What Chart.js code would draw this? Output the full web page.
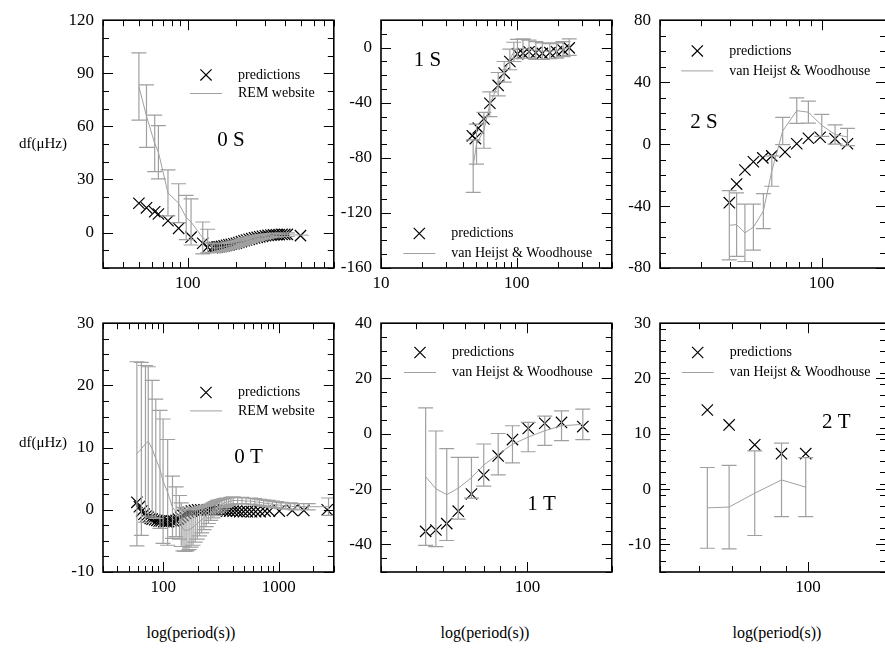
<!DOCTYPE html>
<html>
<head>
<meta charset="utf-8">
<script src="https://cdn.jsdelivr.net/npm/chart.js@4.4.0/dist/chart.umd.min.js"></script>
<style>
  body { margin: 0; width: 885px; height: 648px; overflow: hidden; position: relative; background: #fff; font-family: 'Liberation Serif', serif; }
  .box { position: absolute; }
  .box canvas { display: block; }
  .txt { position: absolute; color: #000; white-space: nowrap; line-height: 1; }
  .ylab { font-size: 15px; transform: translateY(-50%); }
  .xlab { font-size: 16px; width: 200px; text-align: center; }
</style>
</head>
<body>
<div class="box" style="left:43px;top:1px"><canvas id="c0s" width="300" height="297"></canvas></div>
<div class="box" style="left:321px;top:1px"><canvas id="c1s" width="300" height="297"></canvas></div>
<div class="box" style="left:600px;top:1px"><canvas id="c2s" width="300" height="297"></canvas></div>
<div class="box" style="left:43px;top:304px"><canvas id="c0t" width="300" height="298"></canvas></div>
<div class="box" style="left:321px;top:304px"><canvas id="c1t" width="300" height="298"></canvas></div>
<div class="box" style="left:600px;top:304px"><canvas id="c2t" width="300" height="298"></canvas></div>

<div class="txt ylab" style="left:19px;top:143px">df(μHz)</div>
<div class="txt ylab" style="left:19px;top:442px">df(μHz)</div>
<div class="txt xlab" style="left:91px;top:625px">log(period(s))</div>
<div class="txt xlab" style="left:385px;top:625px">log(period(s))</div>
<div class="txt xlab" style="left:677px;top:625px">log(period(s))</div>

<script>
// ---- 0 S ----
var predX_0S = [50, 55.7, 62.6, 66, 75.6, 88, 105, 124, 133,
  142, 147, 152, 157, 162, 168, 174, 180, 186, 193, 200, 207, 215, 223, 231,
  240, 249, 259, 269, 279, 290, 302, 314, 327, 340, 354, 368, 383, 398, 413, 498];
var predY_0S = [16.6, 14, 11.8, 10.5, 6.7, 2.4, -2.6, -6, -8.2,
  -8.5, -8.4, -8.2, -8.0, -7.8, -7.5, -7.2, -6.9, -6.6, -6.3, -6.0, -5.6, -5.1, -4.6, -4.2,
  -3.8, -3.4, -3.0, -2.7, -2.4, -2.1, -1.8, -1.6, -1.4, -1.3, -1.2, -1.1, -1.0, -1.0, -1.0, -1.7];
var remX_0S = [50, 55.7, 62.6, 66, 75.6, 88, 98, 105, 124, 133,
  142, 147, 152, 157, 162, 168, 174, 180, 186, 193, 200, 207, 215, 223, 231,
  240, 249, 259, 269, 279, 290, 302, 314, 327, 340, 354, 368, 383, 398, 413, 560];
var remY_0S = [82.5, 65.8, 50.4, 45.4, 22.4, 16.6, 8.5, 6, -3, -4.8,
  -8.6, -8.8, -8.7, -8.5, -8.3, -8.1, -7.8, -7.4, -7.1, -6.7, -6.4, -6.0, -5.5, -5.0, -4.6,
  -4.2, -3.8, -3.4, -3.0, -2.7, -2.4, -2.1, -1.9, -1.7, -1.5, -1.4, -1.3, -1.2, -1.2, -1.2, -1.5];
var remErr_0S = [19, 17.7, 16, 15, 13, 11, 12.5, 13, 9, 6.7,
  2.6, 2.5, 2.4, 2.3, 2.2, 2.1, 2, 2, 1.9, 1.9, 1.8, 1.8, 1.7, 1.7, 1.6,
  1.6, 1.5, 1.5, 1.4, 1.4, 1.3, 1.3, 1.2, 1.2, 1.1, 1.1, 1.0, 1.0, 1.0, 1.0, 0];

// ---- 1 S ----
var predX_1S = [47, 49.5, 52, 57.2, 63.3, 72.9, 80.7, 88.8, 101, 111, 123, 138, 154, 175, 196, 219, 243];
var predY_1S = [-64, -66, -58.4, -51.7, -40.3, -27.4, -18.4, -10, -4.5, -4.1, -2.9, -3.6, -4.1, -3.6, -2.9, -1.7, -0.1];
var vhX_1S = [47.7, 50.5, 57.2, 63.3, 72.9, 80.7, 88.8, 95, 101, 111, 123, 138, 154, 175, 196, 219, 243];
var vhY_1S = [-86, -70, -60, -41, -26.5, -17.5, -8.5, -3, -1, -0.5, -1, -2, -2.5, -2.5, -2, -1, 0.5];
var vhErr_1S = [19, 14.5, 13, 9, 8.5, 7.5, 7.5, 7, 7, 7, 6.5, 6.5, 6, 5.5, 5.5, 5.5, 6];

// ---- 2 S ----
var predX_2S = [39.9, 42.9, 46.6, 50.7, 55.7, 60.9, 69.5, 78.1, 87.7, 98.6, 114.4, 129.4];
var predY_2S = [-37.8, -25.8, -16.7, -11.4, -8.9, -7.6, -5.1, 0.2, 3.8, 4.4, 3.4, 0.2];
var vhX_2S = [39.9, 42.9, 46.6, 50.7, 56, 60.9, 67.9, 78.1, 87.7, 100.2, 114.4, 129.4];
var vhY_2S = [-52.4, -52, -57.3, -53.6, -43.3, -17.4, 8.5, 21.6, 20.6, 12.1, 6.2, 4.6];
var vhErr_2S = [22.4, 20.5, 18.5, 14.8, 11.3, 9.8, 8.8, 8.2, 7.1, 7.1, 6.2, 5.6];

// ---- 0 T ----
var predX_0T = [59, 62, 65, 68, 71, 74, 77, 80, 84, 88, 92, 96, 101, 106, 111, 117, 123, 129, 135, 141,
  148, 156, 165, 175, 186, 198, 211, 225, 240, 256, 273, 291, 310, 330, 352, 376, 402, 430, 460, 495,
  535, 580, 630, 690, 760, 830, 1010, 1310, 1650, 2630];
var predY_0T = [1.2, 0.5, -0.2, -0.7, -1.0, -1.2, -1.4, -1.5, -1.6, -1.7, -1.8, -1.8, -1.9, -1.9, -1.9, -1.8, -1.8, -1.7, -1.5, -1.2,
  -0.9, -0.6, -0.4, -0.2, -0.1, 0, 0, 0, 0, 0, 0, -0.1, -0.1, -0.1, -0.2, -0.2, -0.2, -0.2, -0.3, -0.3,
  -0.3, -0.3, -0.3, -0.3, -0.2, -0.2, -0.2, -0.1, -0.1, 0];
var remX_0T = [59, 64.5, 70, 74, 80, 86, 93.5, 99.5, 109, 120, 129, 138,
  143, 148, 154, 160, 167, 174, 181, 189, 197, 206, 215, 225, 235, 246, 257, 269, 281, 294, 308, 322,
  337, 352, 368, 385, 403, 440, 480, 520, 570, 620, 680, 740, 810, 880, 960, 1050, 1150, 1260, 1380, 1510,
  1650, 1800, 2700];
var remY_0T = [9.0, 9.8, 10.6, 11.0, 9.8, 8.2, 6.5, 4.6, 2.8, 0.4, -0.3, -1.2,
  -2.4, -3.1, -3.3, -3.3, -3.2, -3.0, -2.8, -2.5, -2.2, -1.9, -1.6, -1.3, -1.0, -0.7, -0.4, -0.1, 0.2, 0.5, 0.7, 0.9,
  1.1, 1.2, 1.3, 1.4, 1.5, 1.5, 1.5, 1.4, 1.4, 1.3, 1.2, 1.1, 1.0, 0.9, 0.8, 0.7, 0.6, 0.6, 0.5, 0.5,
  0.5, 0.5, 0.5];
var remErr_0T = [14.8, 13.9, 12.6, 12, 11, 9.6, 9.5, 10, 8.5, 5, 4, 3.5,
  3.5, 3.5, 3.4, 3.3, 3.2, 3.0, 2.9, 2.7, 2.5, 2.3, 2.1, 1.9, 1.7, 1.5, 1.3, 1.2, 1.1, 1.0, 0.9, 0.8,
  0.7, 0.7, 0.6, 0.6, 0.6, 0.5, 0.5, 0.5, 0.5, 0.5, 0.5, 0.5, 0.5, 0.5, 0.5, 0.5, 0.5, 0.5, 0.5, 0.5,
  0.5, 0.5, 1.4];

// ---- 1 T ----
var predX_1T = [43.3, 47.1, 51.5, 56.6, 63.1, 69.8, 78.6, 88.4, 100.6, 115.3, 132.3, 157.6];
var predY_1T = [-35.3, -34.8, -32.5, -28, -21.8, -14.9, -8, -2.1, 1.9, 3.8, 4.1, 2.6];
var vhX_1T = [43.3, 47.1, 51.5, 56.6, 63.1, 69.8, 78.6, 88.4, 100.6, 115.3, 132.3, 157.6];
var vhY_1T = [-15.5, -19.9, -22, -19.7, -15.9, -11.3, -7.4, -3.8, -1.2, 1.1, 2.9, 3.4];
var vhErr_1T = [24.9, 20.9, 16.6, 11.2, 7.4, 7.6, 7.5, 6.7, 5.3, 5.3, 5.4, 5.5];

// ---- 2 T ----
var predX_2T = [62.4, 69.1, 77.9, 88.3, 98.9];
var predY_2T = [14.3, 11.6, 8.0, 6.4, 6.4];
var vhX_2T = [62.4, 69.1, 77.9, 88.3, 98.9];
var vhY_2T = [-3.4, -3.25, -0.75, 1.65, 0.35];
var vhErr_2T = [7.3, 7.55, 7.65, 6.65, 5.35];

var GRAY = '#a0a0a0';
var CAP = 7.5;

Chart.defaults.font.family = "'Liberation Serif', serif";
Chart.defaults.color = '#000';

function pts(xs, ys) {
  return xs.map(function (x, i) { return { x: x, y: ys[i] }; });
}
function logTicks(min, max) {
  var out = [];
  for (var e = Math.floor(Math.log10(min)); Math.pow(10, e) <= max; e++) {
    for (var k = 1; k < 10; k++) {
      var v = k * Math.pow(10, e);
      if (v >= min && v <= max) out.push(v);
    }
  }
  return out;
}
function linTicks(min, max, step) {
  var out = [];
  for (var v = min; v <= max + 1e-9; v += step) out.push(Math.round(v * 100) / 100);
  return out;
}

var panelDeco = {
  id: 'panelDeco',
  afterDatasetsDraw: function (chart) {
    var ctx = chart.ctx, a = chart.chartArea;
    var xs = chart.scales.x, ys = chart.scales.y;
    ctx.save();
    ctx.beginPath();
    ctx.rect(a.left, a.top, a.right - a.left, a.bottom - a.top);
    ctx.clip();
    chart.data.datasets.forEach(function (ds) {
      if (!ds.err) return;
      ctx.strokeStyle = ds.borderColor;
      ctx.lineWidth = 1.2;
      ctx.beginPath();
      ds.data.forEach(function (p, i) {
        var e = ds.err[i];
        if (!e) return;
        var px = xs.getPixelForValue(p.x);
        var t = ys.getPixelForValue(p.y + e), b = ys.getPixelForValue(p.y - e);
        ctx.moveTo(px, t); ctx.lineTo(px, b);
        ctx.moveTo(px - CAP, t); ctx.lineTo(px + CAP, t);
        ctx.moveTo(px - CAP, b); ctx.lineTo(px + CAP, b);
      });
      ctx.stroke();
    });
    ctx.restore();
  },
  afterDraw: function (chart, args, o) {
    var ctx = chart.ctx, a = chart.chartArea;
    var xs = chart.scales.x, ys = chart.scales.y;
    ctx.save();
    // inward ticks on all four sides
    ctx.strokeStyle = '#000';
    ctx.lineWidth = 1;
    ctx.beginPath();
    function xt(vals, len) {
      vals.forEach(function (v) {
        var p = Math.round(xs.getPixelForValue(v)) + 0.5;
        ctx.moveTo(p, a.bottom); ctx.lineTo(p, a.bottom - len);
        ctx.moveTo(p, a.top); ctx.lineTo(p, a.top + len);
      });
    }
    function yt(vals, len) {
      vals.forEach(function (v) {
        var p = Math.round(ys.getPixelForValue(v)) + 0.5;
        ctx.moveTo(a.left, p); ctx.lineTo(a.left + len, p);
        ctx.moveTo(a.right, p); ctx.lineTo(a.right - len, p);
      });
    }
    xt(o.xMinor, 6); xt(o.xMajor, 10);
    yt(o.yMinor, 6); yt(o.yMajor, 10);
    ctx.stroke();
    // frame
    ctx.lineWidth = 1.6;
    ctx.strokeRect(a.left, a.top, a.right - a.left, a.bottom - a.top);

    // legend
    var L = o.legend;
    var cx = a.left + L.x, cy = a.top + L.y;
    var r = 5.6;
    ctx.lineWidth = 1.2;
    ctx.beginPath();
    ctx.moveTo(cx - r, cy - r); ctx.lineTo(cx + r, cy + r);
    ctx.moveTo(cx - r, cy + r); ctx.lineTo(cx + r, cy - r);
    ctx.stroke();
    ctx.strokeStyle = GRAY;
    ctx.lineWidth = 1;
    ctx.beginPath();
    ctx.moveTo(cx - 16, cy + L.gap); ctx.lineTo(cx + 16, cy + L.gap);
    ctx.stroke();
    ctx.fillStyle = '#000';
    ctx.font = "14px 'Liberation Serif', serif";
    ctx.textBaseline = 'middle';
    ctx.textAlign = 'left';
    ctx.fillText(chart.data.datasets[0].label, cx + 32, cy);
    ctx.fillText(chart.data.datasets[1].label, cx + 32, cy + L.gap);

    // mode tag
    ctx.font = "21px 'Liberation Serif', serif";
    ctx.textAlign = 'center';
    ctx.fillText(o.tag, a.left + o.tagX, a.top + o.tagY);
    ctx.restore();
  }
};

function makePanel(id, c) {
  var xMajor = [10, 100, 1000].filter(function (v) { return v >= c.xMin && v <= c.xMax; });
  new Chart(document.getElementById(id), {
    type: 'scatter',
    data: {
      datasets: [
        { label: 'predictions', data: pts(c.px, c.py), showLine: false,
          pointStyle: 'crossRot', pointRadius: 8, pointBorderColor: '#000',
          pointBackgroundColor: '#000', pointBorderWidth: 1.2, order: 2 },
        { label: c.lineName, data: pts(c.lx, c.ly), err: c.err, showLine: true,
          borderColor: GRAY, borderWidth: 1, pointRadius: 0, tension: 0, order: 1 }
      ]
    },
    options: {
      responsive: false,
      animation: false,
      events: [],
      layout: { padding: { top: 15, right: c.padR, left: 0, bottom: 0 } },
      plugins: {
        legend: { display: false },
        tooltip: { enabled: false },
        panelDeco: {
          xMajor: xMajor, xMinor: logTicks(c.xMin, c.xMax),
          yMajor: c.yLabels, yMinor: linTicks(c.yMin, c.yMax, c.yStep),
          legend: c.legend, tag: c.tag, tagX: c.tagX, tagY: c.tagY
        }
      },
      scales: {
        x: {
          type: 'logarithmic', position: 'bottom', min: c.xMin, max: c.xMax, bounds: 'data',
          afterBuildTicks: function (s) { s.ticks = c.xLabels.map(function (v) { return { value: v }; }); },
          afterFit: function (s) { s.height = 30; },
          grid: { display: false, drawTicks: false },
          border: { display: false },
          ticks: { autoSkip: false, maxRotation: 0, padding: 5, font: { size: 17 },
            callback: function (v) { return String(v); } }
        },
        y: {
          type: 'linear', position: 'left', min: c.yMin, max: c.yMax, bounds: 'data',
          afterBuildTicks: function (s) { s.ticks = c.yLabels.map(function (v) { return { value: v }; }); },
          afterFit: function (s) { s.width = 60; },
          grid: { display: false, drawTicks: false },
          border: { display: false },
          ticks: { autoSkip: false, padding: 9, font: { size: 17 },
            callback: function (v) { return String(v); } }
        }
      }
    },
    plugins: [panelDeco]
  });
}

makePanel('c0s', { px: predX_0S, py: predY_0S, lx: remX_0S, ly: remY_0S, err: remErr_0S,
  lineName: 'REM website', xMin: 30, xMax: 800, xLabels: [100],
  yMin: -20, yMax: 120, yStep: 10, yLabels: [0, 30, 60, 90, 120], padR: 8,
  legend: { x: 103, y: 54.7, gap: 18.6 }, tag: '0 S', tagX: 128, tagY: 120.7 });

makePanel('c1s', { px: predX_1S, py: predY_1S, lx: vhX_1S, ly: vhY_1S, err: vhErr_1S,
  lineName: 'van Heijst & Woodhouse', xMin: 10, xMax: 500, xLabels: [10, 100],
  yMin: -160, yMax: 20, yStep: 10, yLabels: [-160, -120, -80, -40, 0], padR: 9,
  legend: { x: 38.3, y: 213.3, gap: 20 }, tag: '1 S', tagX: 46.5, tagY: 40.7 });

makePanel('c2s', { px: predX_2S, py: predY_2S, lx: vhX_2S, ly: vhY_2S, err: vhErr_2S,
  lineName: 'van Heijst & Woodhouse', xMin: 20, xMax: 190, xLabels: [100],
  yMin: -80, yMax: 80, yStep: 10, yLabels: [-80, -40, 0, 40, 80], padR: 14,
  legend: { x: 37.3, y: 30.7, gap: 20 }, tag: '2 S', tagX: 44, tagY: 102 });

makePanel('c0t', { px: predX_0T, py: predY_0T, lx: remX_0T, ly: remY_0T, err: remErr_0T,
  lineName: 'REM website', xMin: 30, xMax: 3000, xLabels: [100, 1000],
  yMin: -10, yMax: 30, yStep: 2.5, yLabels: [-10, 0, 10, 20, 30], padR: 8,
  legend: { x: 103, y: 69.3, gap: 18.4 }, tag: '0 T', tagX: 145.5, tagY: 134 });

makePanel('c1t', { px: predX_1T, py: predY_1T, lx: vhX_1T, ly: vhY_1T, err: vhErr_1T,
  lineName: 'van Heijst & Woodhouse', xMin: 30, xMax: 200, xLabels: [100],
  yMin: -50, yMax: 40, yStep: 5, yLabels: [-40, -20, 0, 20, 40], padR: 9,
  legend: { x: 39, y: 29.3, gap: 20 }, tag: '1 T', tagX: 160.5, tagY: 181 });

makePanel('c2t', { px: predX_2T, py: predY_2T, lx: vhX_2T, ly: vhY_2T, err: vhErr_2T,
  lineName: 'van Heijst & Woodhouse', xMin: 50, xMax: 144, xLabels: [100],
  yMin: -15, yMax: 30, yStep: 2, yLabels: [-10, 0, 10, 20, 30], padR: 14,
  legend: { x: 37.7, y: 29.3, gap: 20 }, tag: '2 T', tagX: 176.3, tagY: 99 });
</script>
</body>
</html>
